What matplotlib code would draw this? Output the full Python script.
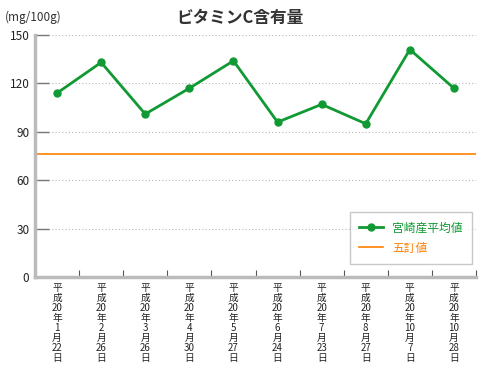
import matplotlib.pyplot as plt
from matplotlib.ticker import FixedLocator

plt.rcParams['font.family'] = ['Noto Sans CJK JP', 'DejaVu Sans']

dates = ["平成20年1月22日", "平成20年2月26日", "平成20年3月26日", "平成20年4月30日",
         "平成20年5月27日", "平成20年6月24日", "平成20年7月23日", "平成20年8月27日",
         "平成20年10月7日", "平成20年10月28日"]
miyazaki = [114, 133, 101, 117, 134, 96, 107, 95, 141, 117]
standard = 76
yticks = [0, 30, 60, 90, 120, 150]


def stack(label):
    # vertical label, digit runs kept on one line
    parts = []
    for ch in label:
        if ch.isdigit() and parts and parts[-1].isdigit():
            parts[-1] += ch
        else:
            parts.append(ch)
    return "\n".join(parts)


fig = plt.figure(figsize=(4.8, 3.8), dpi=100)
ax = fig.add_axes([35 / 480, 1 - 277 / 380, 441 / 480, 242 / 380])

x = list(range(len(dates)))
ax.plot(x, miyazaki, color="#119933", lw=2, marker="o", ms=5, label="宮崎産平均値", zorder=3)
ax.axhline(standard, color="#FF8000", lw=1.2, label="五訂値", zorder=2)

ax.set_xlim(-0.5, len(dates) - 0.5)
ax.set_ylim(0, 150)
ax.set_yticks(yticks)
ax.set_yticklabels([str(v) for v in yticks], fontsize=8.5, color="#222222")
for v in yticks[1:]:
    ax.axhline(v, color="#b5b5b5", lw=0.8, ls=(0, (1, 2)), zorder=1)

ax.set_xticks(x)
ax.set_xticklabels([stack(d) for d in dates], fontsize=7, linespacing=1.0, color="#222222")
ax.tick_params(axis="x", length=0, pad=4.5)
ax.xaxis.set_minor_locator(FixedLocator([i + 0.5 for i in range(len(dates))]))
ax.tick_params(axis="x", which="minor", direction="in", length=5, color="#555555", width=0.8)
ax.tick_params(axis="y", direction="in", length=10, color="#777777", width=1, pad=4)

for s in ["top", "right"]:
    ax.spines[s].set_visible(False)
for s in ["left", "bottom"]:
    ax.spines[s].set_color("#bbbbbb")
    ax.spines[s].set_linewidth(2.5)

fig.text(240 / 480, 1 - 18 / 380, "ビタミンC含有量", ha="center", va="center",
         fontsize=12, fontweight="bold", color="#333333")
fig.text(5 / 480, 1 - 17 / 380, "(mg/100g)", ha="left", va="center", fontsize=8.5, color="#333333")

leg = ax.legend(loc="lower right", bbox_to_anchor=(0.991, 0.054), borderaxespad=0,
                fontsize=8.5, frameon=True, fancybox=False, edgecolor="#bbbbbb",
                handlelength=2, borderpad=0.8, labelspacing=0.6)
for txt, c in zip(leg.get_texts(), ["#119933", "#FF8000"]):
    txt.set_color(c)
leg.get_frame().set_linewidth(1)

fig.savefig("out.png", dpi=100)
